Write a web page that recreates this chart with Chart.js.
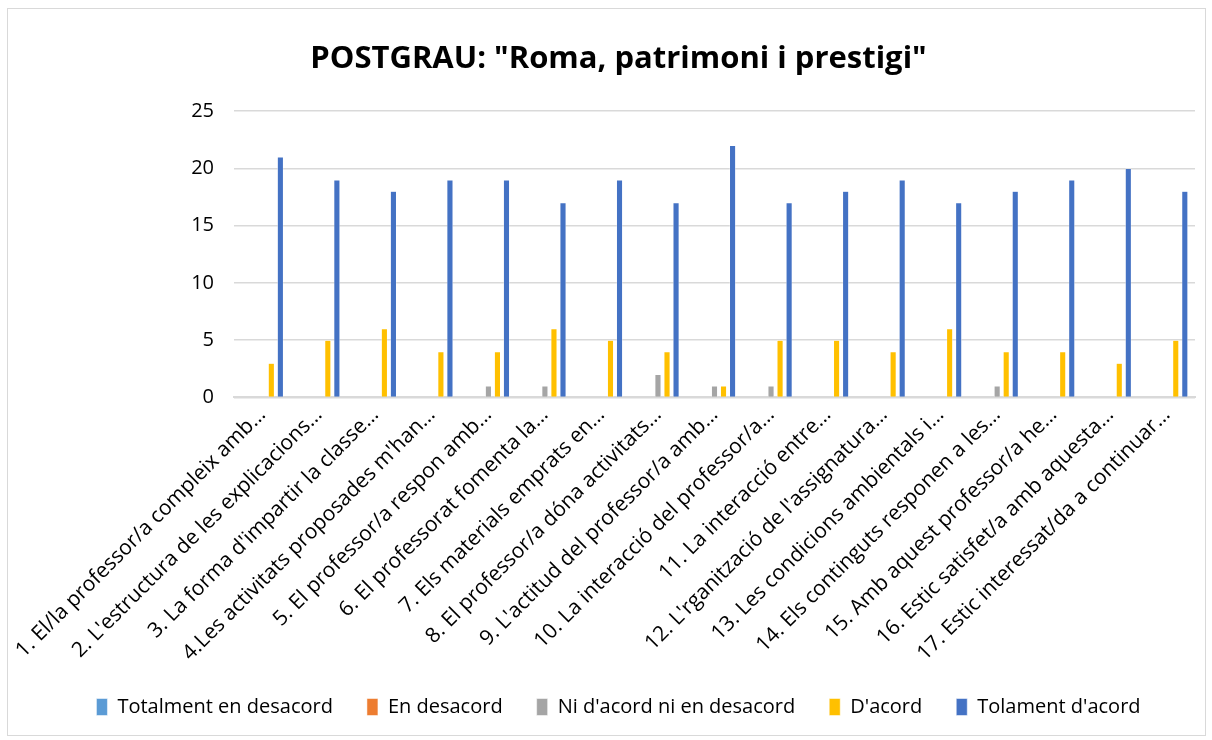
<!DOCTYPE html>
<html>
<head>
<meta charset="utf-8">
<script src="https://cdn.jsdelivr.net/npm/chart.js@4.4.1/dist/chart.umd.min.js"></script>
<style>
  body { margin: 0; background: #fff; }
  #wrap { position: absolute; left: 0; top: 0; width: 1212px; height: 740px; }
  #frame { position: absolute; left: 7px; top: 8px; width: 1197px; height: 726px; border: 1px solid #d9d9d9; pointer-events: none; }
</style>
</head>
<body>
<div id="wrap">
  <canvas id="chart" width="1212" height="740"></canvas>
  <div id="frame"></div>
</div>
<script>
// categories (already cut off the way the original axis shows them)
const categories = [
  '1. El/la professor/a compleix amb…',
  "2. L'estructura de les explicacions…",
  "3. La forma d'impartir la classe…",
  "4.Les activitats proposades m'han…",
  '5. El professor/a respon amb…',
  '6. El professorat fomenta la…',
  '7. Els materials emprats en…',
  '8. El professor/a dóna activitats…',
  "9. L'actitud del professor/a amb…",
  '10. La interacció del professor/a…',
  '11. La interacció entre…',
  "12. L'rganització de l'assignatura…",
  '13. Les condicions ambientals i…',
  '14. Els continguts responen a les…',
  '15. Amb aquest professor/a he…',
  '16. Estic satisfet/a amb aquesta…',
  '17. Estic interessat/da a continuar…'
]

const totalmentDesacord = [0,0,0,0,0,0,0,0,0,0,0,0,0,0,0,0,0]
const enDesacord        = [0,0,0,0,0,0,0,0,0,0,0,0,0,0,0,0,0]
const niAcord           = [0,0,0,0,1,1,0,2,1,1,0,0,0,1,0,0,0]
const dAcord            = [3,5,6,4,4,6,5,4,1,5,5,4,6,4,4,3,5]
const tolamentAcord     = [21,19,18,19,19,17,19,17,22,17,18,19,17,18,19,20,18]

const yTicks = [0, 5, 10, 15, 20, 25]

const FONT = "'Open Sans', 'DejaVu Sans', sans-serif"

const makeSet = (label, data, color) => ({
  label: label,
  data: data,
  backgroundColor: color,
  borderColor: '#ffffff',
  borderWidth: 0.5,
  categoryPercentage: 0.8,
  barPercentage: 0.68
})

const ctx = document.getElementById('chart')
const chart = new Chart(ctx, {
  type: 'bar',
  data: {
    labels: categories,
    datasets: [
      makeSet('Totalment en desacord', totalmentDesacord, '#5B9BD5'),
      makeSet('En desacord', enDesacord, '#ED7D31'),
      makeSet("Ni d'acord ni en desacord", niAcord, '#A5A5A5'),
      makeSet("D'acord", dAcord, '#FFC000'),
      makeSet("Tolament d'acord", tolamentAcord, '#4472C4')
    ]
  },
  options: {
    responsive: false,
    animation: false,
    layout: {
      padding: { left: 42, right: 17, top: 41, bottom: 13 }
    },
    plugins: {
      title: {
        display: true,
        text: 'POSTGRAU: "Roma, patrimoni i prestigi"',
        color: '#000',
        font: { family: FONT, size: 31, weight: 'bold' },
        padding: { top: 0, bottom: 33 }
      },
      legend: {
        position: 'bottom',
        labels: {
          color: '#000',
          font: { family: FONT, size: 20 },
          boxWidth: 11,
          boxHeight: 17,
          padding: 34
        }
      },
      tooltip: { enabled: false }
    },
    scales: {
      x: {
        grid: { display: false, drawTicks: false },
        border: { color: '#d9d9d9', width: 2 },
        afterFit: (axis) => { axis.height = axis.height - 8 },
        ticks: {
          color: '#000',
          font: { family: FONT, size: 21 },
          maxRotation: 45,
          minRotation: 45,
          autoSkip: false,
          padding: 5
        }
      },
      y: {
        min: 0,
        max: 25,
        afterBuildTicks: (axis) => { axis.ticks = yTicks.map(v => ({ value: v })) },
        afterFit: (axis) => { axis.width = 192 },
        grid: { color: '#d9d9d9', lineWidth: 1.5, drawTicks: false },
        border: { display: false },
        ticks: {
          color: '#000',
          font: { family: FONT, size: 20 },
          padding: 20
        }
      }
    }
  }
})
</script>
</body>
</html>
